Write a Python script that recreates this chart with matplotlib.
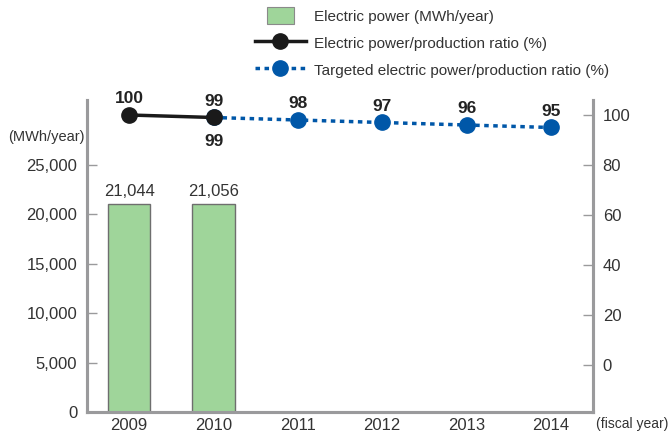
import matplotlib
matplotlib.use("Agg")
import matplotlib.pyplot as plt
from matplotlib.patches import Patch, Rectangle
from matplotlib.lines import Line2D
from matplotlib.legend_handler import HandlerPatch
from matplotlib import font_manager

names = {f.name for f in font_manager.fontManager.ttflist}
FONT = ['Liberation Sans Narrow', 'DejaVu Sans'] if 'Liberation Sans Narrow' in names else ['Liberation Sans', 'DejaVu Sans']
plt.rcParams['font.family'] = FONT

years = ['2009', '2010', '2011', '2012', '2013', '2014']
power = [21044, 21056]
power_labels = ['21,044', '21,056']
actual_ratio = [100, 99]
target_ratio = [99, 98, 97, 96, 95]
left_ticks = [0, 5000, 10000, 15000, 20000, 25000]
left_ticklabels = ['0', '5,000', '10,000', '15,000', '20,000', '25,000']
right_ticks = [0, 20, 40, 60, 80, 100]

GREEN = '#9fd59a'
BLUE = '#0057a8'
GRAY = '#9a9a9c'
TEXT = '#333333'

fig = plt.figure(figsize=(6.7, 4.32), dpi=100)
ax = fig.add_axes([87/670, 1-412/432, (593-87)/670, (412-100)/432])
ax2 = ax.twinx()

x = list(range(len(years)))
ax.bar(x[:2], power, width=0.5, color=GREEN, edgecolor='#6e6e6e', linewidth=1.0, zorder=2)
for i, (v, lab) in enumerate(zip(power, power_labels)):
    ax.text(i, v + 500, lab, ha='center', va='bottom', fontsize=12, color=TEXT)

ax.set_xlim(-0.5, 5.5)
ax.set_ylim(0, 31580)
ax.set_yticks(left_ticks)
ax.set_yticklabels(left_ticklabels)
ax.set_xticks(x)
ax.set_xticklabels(years)

ax2.set_ylim(-18.8, 106)
ax2.set_yticks(right_ticks)

for a in (ax, ax2):
    a.spines['top'].set_visible(False)
    for s in ('left', 'right', 'bottom'):
        a.spines[s].set_color(GRAY)
        a.spines[s].set_linewidth(2.2)
    a.tick_params(axis='y', direction='in', length=7, width=1, color=GRAY,
                  labelsize=12, labelcolor=TEXT)
ax.tick_params(axis='x', length=0, labelsize=12, labelcolor=TEXT, pad=4)
ax.tick_params(axis='y', pad=7)
ax2.tick_params(axis='y', pad=7)

# lines
ax2.plot(x[1:], target_ratio, color=BLUE, linestyle=(0, (1.3, 1.3)), linewidth=2.5,
         marker='o', markersize=11, markerfacecolor=BLUE, markeredgecolor=BLUE, zorder=3)
ax2.plot(x[:2], actual_ratio, color='#1a1a1a', linewidth=2.5, marker='o', markersize=11,
         markerfacecolor='#1a1a1a', markeredgecolor='#1a1a1a', zorder=4)

for i, v in enumerate(actual_ratio):
    ax2.text(i, v + 3.5, str(v), ha='center', va='bottom', fontsize=12.5, fontweight='bold', color='#222222')
ax2.text(1, actual_ratio[1] - 6.5, str(target_ratio[0]), ha='center', va='top', fontsize=12.5,
         fontweight='bold', color='#222222')
for i, v in zip(x[2:], target_ratio[1:]):
    ax2.text(i, v + 3.5, str(v), ha='center', va='bottom', fontsize=12.5, fontweight='bold', color='#222222')

fig.text(8/670, 1-137/432, '(MWh/year)', fontsize=10.5, color=TEXT, va='center', ha='left')
fig.text(596/670, 1-424/432, '(fiscal year)', fontsize=10, color=TEXT, va='center', ha='left')


def small_rect(legend, orig_handle, xdescent, ydescent, width, height, fontsize):
    w, h = 19, 12
    return Rectangle((-xdescent + (width - w) / 2, -ydescent + (height - h) / 2), w, h)


handles = [
    Patch(facecolor=GREEN, edgecolor='#8a8a8a', linewidth=0.8),
    Line2D([0], [0], color='#1a1a1a', linewidth=2.5, marker='o', markersize=11),
    Line2D([0], [0], color=BLUE, linewidth=2.5, linestyle=(0, (1.3, 1.3)), marker='o', markersize=11),
]
labels = ['Electric power (MWh/year)', 'Electric power/production ratio (%)',
          'Targeted electric power/production ratio (%)']
leg = fig.legend(handles, labels, loc='upper left', bbox_to_anchor=(246/670, 1.005), frameon=False,
                 fontsize=11, handlelength=3.3, handleheight=1.4, labelspacing=0.62,
                 handletextpad=0.55, borderaxespad=0.2,
                 handler_map={Patch: HandlerPatch(patch_func=small_rect)})
for t in leg.get_texts():
    t.set_color(TEXT)

fig.savefig('out.png', dpi=100)
